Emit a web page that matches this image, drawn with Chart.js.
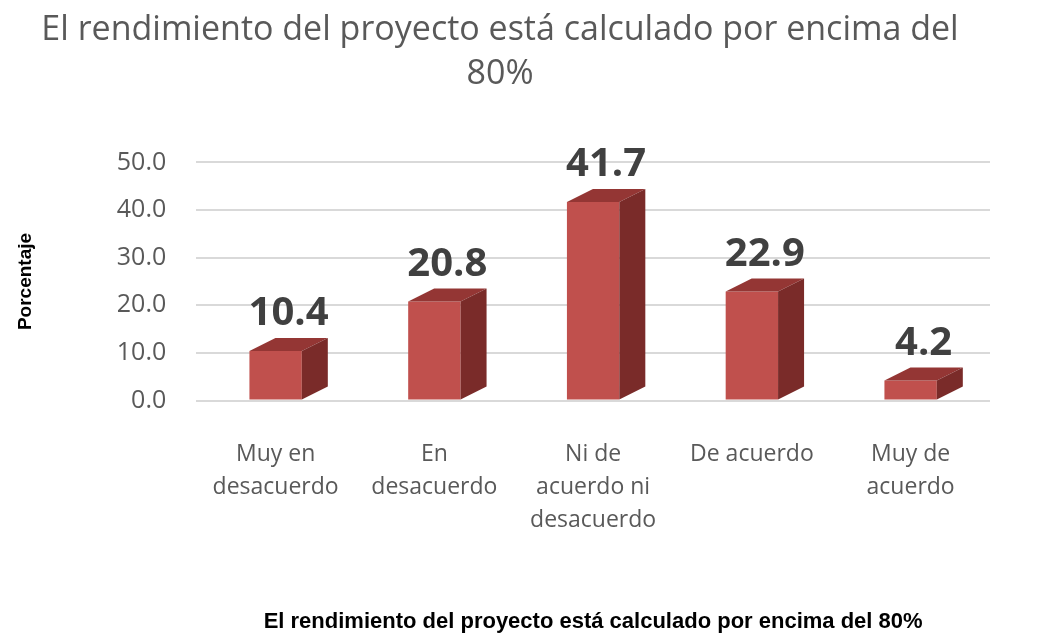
<!DOCTYPE html>
<html>
<head>
<meta charset="utf-8">
<script src="https://cdn.jsdelivr.net/npm/chart.js@4/dist/chart.umd.min.js"></script>
<style>
  html, body { margin: 0; padding: 0; background: #fff; }
  #wrap { width: 1038px; height: 635px; }
</style>
</head>
<body>
<div id="wrap"><canvas id="myChart" width="1038" height="635"></canvas></div>
<script>
// Datos del gráfico
const categorias = [
    ['Muy en', 'desacuerdo'],
    ['En', 'desacuerdo'],
    ['Ni de', 'acuerdo ni', 'desacuerdo'],
    'De acuerdo',
    ['Muy de', 'acuerdo']
];
const porcentajes = [10.4, 20.8, 41.7, 22.9, 4.2];
const ejeY = { min: 0, max: 50, paso: 10 };

const titulo = ['El rendimiento del proyecto está calculado por encima del', '80%'];
const tituloEjeX = 'El rendimiento del proyecto está calculado por encima del 80%';
const tituloEjeY = 'Porcentaje';

// Plugin para dar efecto 3D a las barras y poner las etiquetas de valor
const barras3D = {
    id: 'barras3D',
    afterDatasetsDraw(chart) {
        const c = chart.ctx;
        const meta = chart.getDatasetMeta(0);
        const dx = 26, dy = 13;
        meta.data.forEach((bar, i) => {
            const p = bar.getProps(['x', 'y', 'base', 'width'], true);
            const l = p.x - p.width / 2, r = p.x + p.width / 2;
            c.save();
            // cara superior
            c.fillStyle = '#943634';
            c.beginPath();
            c.moveTo(l, p.y);
            c.lineTo(l + dx, p.y - dy);
            c.lineTo(r + dx, p.y - dy);
            c.lineTo(r, p.y);
            c.closePath();
            c.fill();
            // cara lateral
            c.fillStyle = '#7A2B29';
            c.beginPath();
            c.moveTo(r, p.y);
            c.lineTo(r + dx, p.y - dy);
            c.lineTo(r + dx, p.base - dy);
            c.lineTo(r, p.base);
            c.closePath();
            c.fill();
            // etiqueta
            c.fillStyle = '#404040';
            c.font = 'bold 40px "Open Sans", sans-serif';
            c.textAlign = 'center';
            c.textBaseline = 'bottom';
            c.fillText(porcentajes[i].toFixed(1), p.x + dx / 2, p.y - dy - 4);
            c.restore();
        });
    }
};

const ctx = document.getElementById('myChart').getContext('2d');
const chart = new Chart(ctx, {
    type: 'bar',
    data: {
        labels: categorias,
        datasets: [{
            label: tituloEjeY,
            data: porcentajes,
            backgroundColor: '#C0504D',
            borderWidth: 0,
            categoryPercentage: 1,
            barPercentage: 0.33
        }]
    },
    options: {
        responsive: false,
        animation: false,
        layout: { padding: { left: 10, right: 48, top: 6, bottom: 0 } },
        plugins: {
            legend: { display: false },
            tooltip: { enabled: false },
            title: {
                display: true,
                text: titulo,
                color: '#595959',
                font: { family: 'Open Sans', size: 34, weight: 'normal', lineHeight: 1.3 },
                padding: { top: 2, bottom: 66 }
            }
        },
        scales: {
            y: {
                min: ejeY.min,
                max: ejeY.max,
                ticks: {
                    stepSize: ejeY.paso,
                    callback: v => v.toFixed(1),
                    color: '#595959',
                    font: { family: 'Open Sans', size: 25 },
                    padding: 30
                },
                grid: { color: '#D9D9D9', lineWidth: 2, drawTicks: false },
                border: { display: false },
                title: {
                    display: true,
                    text: tituloEjeY,
                    color: '#000',
                    font: { family: 'Liberation Sans', size: 19, weight: 'bold' },
                    padding: { bottom: 50 }
                }
            },
            x: {
                ticks: {
                    color: '#595959',
                    font: { family: 'Open Sans', size: 23, lineHeight: 1.42 },
                    maxRotation: 0,
                    autoSkip: false,
                    padding: 30
                },
                grid: { display: false },
                border: { display: false },
                title: {
                    display: true,
                    text: tituloEjeX,
                    color: '#000',
                    font: { family: 'Liberation Sans', size: 22, weight: 'bold' },
                    padding: { top: 42, bottom: 0 }
                }
            }
        }
    },
    plugins: [barras3D]
});
</script>
</body>
</html>
